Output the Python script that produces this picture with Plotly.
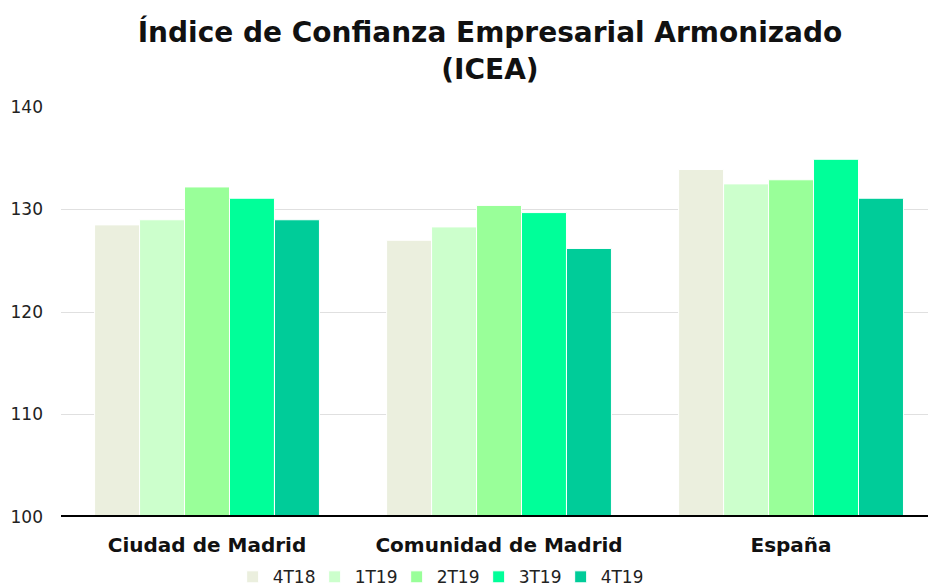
import plotly.graph_objects as go

categories = ["Ciudad de Madrid", "Comunidad de Madrid", "España"]
series_names = ["4T18", "1T19", "2T19", "3T19", "4T19"]
values = {
    "4T18": [128.5, 127.0, 133.9],
    "1T19": [129.0, 128.3, 132.5],
    "2T19": [132.2, 130.4, 132.9],
    "3T19": [131.1, 129.7, 134.9],
    "4T19": [129.0, 126.2, 131.1],
}
colors = ["#EBEFDE", "#CCFFCC", "#99FF99", "#00FF99", "#00CC99"]
tick_vals = [100, 110, 120, 130, 140]

fig = go.Figure()
for name, col in zip(series_names, colors):
    fig.add_trace(go.Bar(
        x=categories, y=values[name], name=name,
        marker=dict(color=col, line=dict(color="white", width=1)),
    ))

fig.update_layout(
    width=928, height=587,
    paper_bgcolor="white", plot_bgcolor="white",
    barmode="group", bargap=0.23, bargroupgap=0,
    margin=dict(l=61, r=0, t=107, b=70, autoexpand=False),
    font=dict(family="DejaVu Sans, Verdana, sans-serif", color="#222222", size=17),
    title=dict(
        text="<b>Índice de Confianza Empresarial Armonizado<br>(ICEA)</b>",
        x=0.528, xanchor="center", y=0.928, yanchor="top",
        font=dict(size=28, color="#111111"),
    ),
    xaxis=dict(
        showgrid=False, showline=False, ticks="",
        range=[-0.5, 2.469],
        tickfont=dict(size=20, color="#111111"),
        ticklabelstandoff=14, automargin=False,
        tickvals=categories,
        ticktext=["<b>" + c + "</b>" for c in categories],
    ),
    yaxis=dict(
        range=[100, 140], tickvals=tick_vals, showgrid=True,
        gridcolor="#E0E0E0", gridwidth=1, zeroline=False,
        tickfont=dict(size=17, color="#222222"), ticks="",
        ticklabelstandoff=17, automargin=False,
    ),
    legend=dict(
        orientation="h", x=0.198, xanchor="left", y=-0.147, yanchor="middle",
        font=dict(size=17, color="#222222"), itemwidth=30,
        entrywidth=37, entrywidthmode="pixels",
        traceorder="normal",
    ),
    showlegend=True,
)
# baseline at y=100
fig.add_shape(type="line", xref="paper", yref="y", x0=0, x1=1, y0=100, y1=100,
              line=dict(color="black", width=4))

fig.write_html("out.html", config={"displayModeBar": False},
               post_script="document.body.style.margin='0';")
